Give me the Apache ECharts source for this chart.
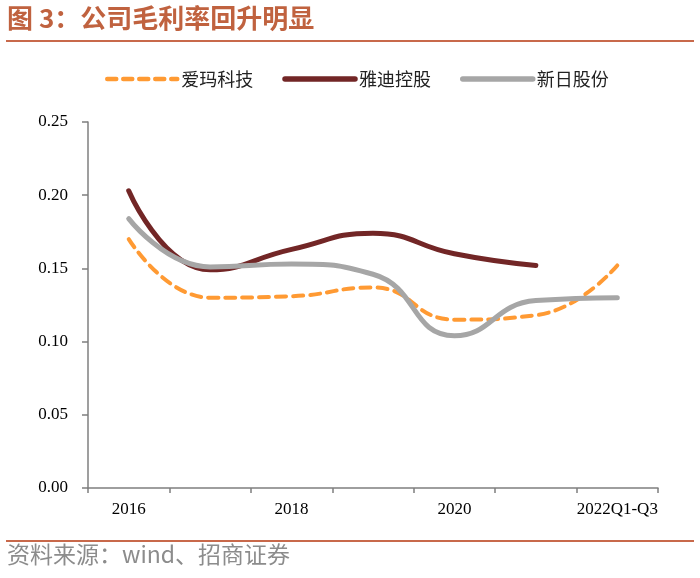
<!DOCTYPE html>
<html>
<head>
<meta charset="utf-8">
<script src="https://cdn.jsdelivr.net/npm/echarts@6/dist/echarts.min.js"></script>
<style>
html,body{margin:0;padding:0;background:#fff;}
#c{width:700px;height:578px;}
</style>
</head>
<body>
<div id="c"></div>
<script>
var categories = ['2016','2017','2018','2019','2020','2021','2022Q1-Q3'];
var aima = [0.170, 0.130, 0.131, 0.137, 0.115, 0.118, 0.152];
var yadi = [0.203, 0.149, 0.163, 0.174, 0.160, 0.152, null];
var xinri = [0.184, 0.151, 0.153, 0.146, 0.104, 0.128, 0.130];
var seriesNames = ['爱玛科技','雅迪控股','新日股份'];
var titleText = '图 3：公司毛利率回升明显';
var sourceText = '资料来源：wind、招商证券';

var chart = echarts.init(document.getElementById('c'), null, {renderer:'canvas'});
var serif = '"Liberation Serif","Times New Roman",serif';
var cjk = '"Noto Sans CJK SC","Noto Sans",sans-serif';
chart.setOption({
  animation:false,
  backgroundColor:'#fff',
  graphic:[
    {type:'text', left:7, top:5, style:{text:titleText, fill:'#C0623F', font:'bold 26px ' + cjk}},
    {type:'rect', shape:{x:6, y:40, width:688, height:2}, style:{fill:'#C8694B'}},
    {type:'rect', shape:{x:6, y:540, width:688, height:2}, style:{fill:'#C8694B'}},
    {type:'text', left:7, top:543, style:{text:sourceText, fill:'#8C8C8C', font:'23px ' + cjk}}
  ],
  legend:{
    left:100, top:65,
    itemWidth:70, itemHeight:12, itemGap:29,
    itemStyle:{opacity:0},
    textStyle:{fontFamily:cjk, fontSize:18, color:'#222', padding:[0,0,0,-1]},
    data:[
      {name:seriesNames[0], lineStyle:{width:4.5, type:[9,7], cap:'round'}},
      {name:seriesNames[1], lineStyle:{width:5.5, cap:'round'}},
      {name:seriesNames[2], lineStyle:{width:5.5, cap:'round'}}
    ]
  },
  grid:{left:88, right:42, top:122, bottom:90, containLabel:false},
  xAxis:{
    type:'category', data:categories, boundaryGap:true,
    axisLine:{lineStyle:{color:'#7f7f7f', width:1.5}},
    axisTick:{show:true, length:5, interval:0, lineStyle:{color:'#7f7f7f', width:1.5}},
    axisLabel:{interval:1, color:'#000', fontFamily:serif, fontSize:17, margin:13}
  },
  yAxis:{
    type:'value', min:0, max:0.25, interval:0.05,
    splitLine:{show:false},
    axisLine:{show:true, lineStyle:{color:'#7f7f7f', width:1.5}},
    axisTick:{show:true, length:6, lineStyle:{color:'#7f7f7f', width:1.5}},
    axisLabel:{color:'#000', fontFamily:serif, fontSize:17, margin:20,
      formatter:function(v){return v.toFixed(2);}}
  },
  series:[
    {name:seriesNames[0], type:'line', data:aima, smooth:0.5, symbol:'none',
      lineStyle:{color:'#FF9A33', width:4, type:[10,7], cap:'round'}, itemStyle:{color:'#FF9A33'}, z:3},
    {name:seriesNames[1], type:'line', data:yadi, smooth:0.5, symbol:'none',
      lineStyle:{color:'#722626', width:5, cap:'round'}, itemStyle:{color:'#722626'}, z:2},
    {name:seriesNames[2], type:'line', data:xinri, smooth:0.5, symbol:'none',
      lineStyle:{color:'#A6A6A6', width:5, cap:'round'}, itemStyle:{color:'#A6A6A6'}, z:4}
  ]
});
</script>
</body>
</html>
